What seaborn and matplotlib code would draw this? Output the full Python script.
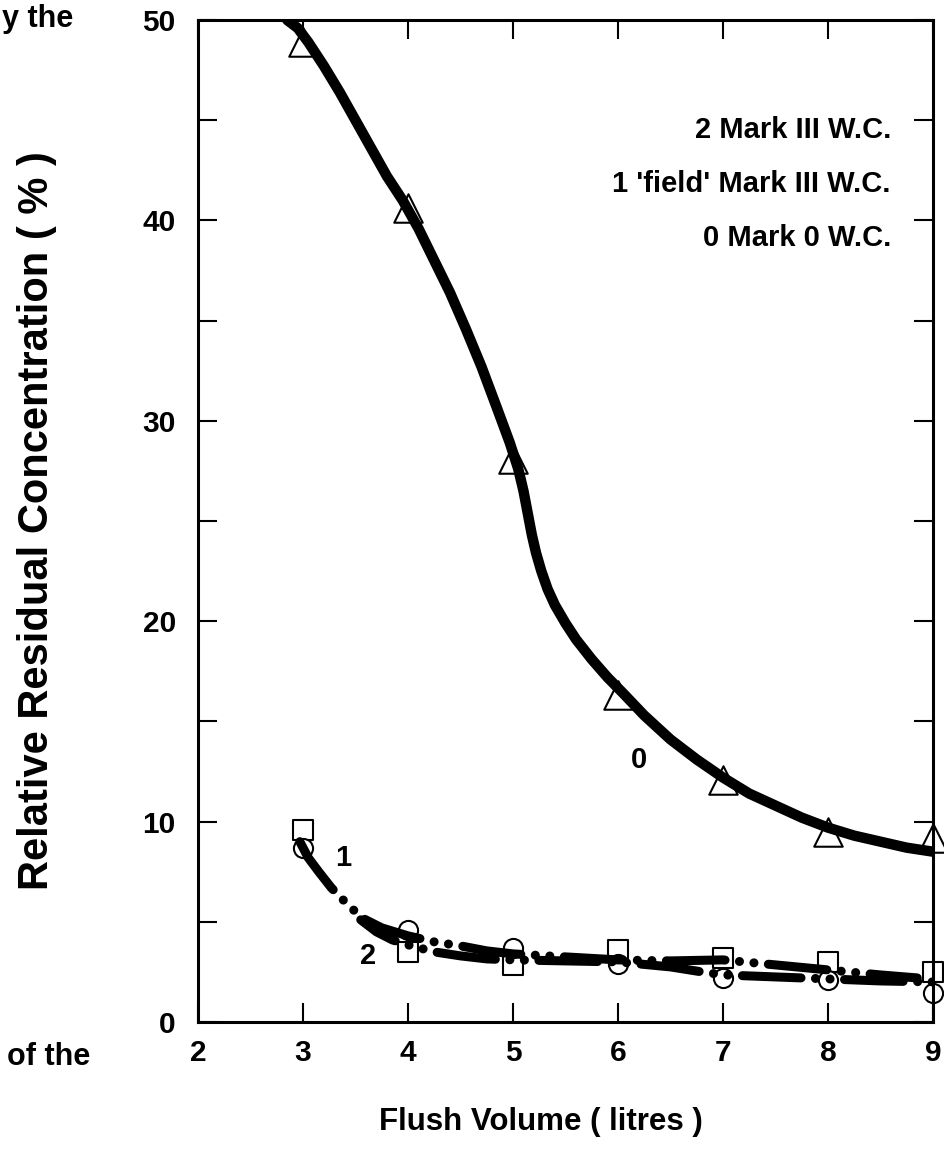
import numpy as np
import pandas as pd
import seaborn as sns
import matplotlib.pyplot as plt

# measured points
flush = [3, 4, 5, 6, 7, 8, 9]
mark0 = [48.9, 40.6, 28.1, 16.3, 12.1, 9.5, 9.2]        # triangles
field_sq = [9.6, 3.5, 2.85, 3.6, 3.2, 3.0, 2.5]          # squares
mark3_ci = [8.7, 4.6, 3.7, 2.9, 2.2, 2.1, 1.45]          # circles

# hand-drawn curves
c0_x = [2.85, 2.95, 3.05, 3.2, 3.35, 3.5, 3.65, 3.8, 3.95, 4.1, 4.25, 4.4, 4.55, 4.7, 4.85, 4.97, 5.05, 5.1, 5.14, 5.18, 5.22, 5.27, 5.33, 5.4, 5.5, 5.6, 5.75, 5.9, 6.05, 6.25, 6.5, 6.75, 7.0, 7.25, 7.5, 7.75, 8.0, 8.25, 8.5, 8.75, 9.0]
c0_y = [50.0, 49.6, 48.9, 47.7, 46.4, 45.0, 43.6, 42.2, 41.0, 39.6, 38.0, 36.4, 34.6, 32.7, 30.6, 28.9, 27.6, 26.5, 25.4, 24.3, 23.4, 22.5, 21.6, 20.8, 19.9, 19.1, 18.1, 17.2, 16.4, 15.3, 14.1, 13.1, 12.2, 11.4, 10.8, 10.2, 9.7, 9.3, 9.0, 8.7, 8.5]
c1_x = [2.97, 3.05, 3.15, 3.27, 3.4, 3.56, 3.75, 4.0, 4.25, 4.5, 4.75, 5.0, 5.5, 6.0, 6.5, 7.0, 7.5, 8.0, 8.5, 8.85]
c1_y = [9.0, 8.2, 7.5, 6.7, 6.0, 5.2, 4.7, 4.3, 4.0, 3.8, 3.55, 3.4, 3.25, 3.1, 3.05, 3.1, 2.85, 2.6, 2.35, 2.2]
c2_x = [3.55, 3.7, 3.85, 4.0, 4.25, 4.5, 4.75, 5.0, 5.5, 6.0, 6.5, 6.8, 7.0, 7.5, 8.0, 8.5, 9.0]
c2_y = [5.1, 4.5, 4.1, 3.85, 3.5, 3.3, 3.15, 3.1, 3.05, 3.0, 2.75, 2.5, 2.35, 2.25, 2.15, 2.05, 2.0]

legend_lines = ["2 Mark III W.C.", "1 'field' Mark III W.C.", "0 Mark 0 W.C."]

sns.set_style("ticks")
plt.rcParams['font.family'] = ['Liberation Sans', 'DejaVu Sans']
plt.rcParams['font.weight'] = 'bold'
for k in ['text.color', 'axes.labelcolor', 'xtick.color', 'ytick.color', 'axes.edgecolor']:
    plt.rcParams[k] = 'black'

fig = plt.figure(figsize=(9.45, 11.53), dpi=100)
ax = fig.add_axes([0.2095, 0.1136, 0.7778, 0.869])

df_pts = pd.DataFrame({'x': flush, 'm0': mark0, 'sq': field_sq, 'ci': mark3_ci})

# open markers underneath the curves
sns.scatterplot(data=df_pts, x='x', y='m0', marker='^', s=420, facecolor='white',
                edgecolor='black', linewidth=1.5, ax=ax, zorder=2, clip_on=False)
sns.scatterplot(data=df_pts, x='x', y='sq', marker='s', s=210, facecolor='white',
                edgecolor='black', linewidth=1.5, ax=ax, zorder=2, clip_on=False)
sns.scatterplot(data=df_pts, x='x', y='ci', marker='o', s=190, facecolor='white',
                edgecolor='black', linewidth=1.5, ax=ax, zorder=2, clip_on=False)

sns.lineplot(x=c0_x, y=c0_y, sort=False, estimator=None, color='black', linewidth=7.5,
             ax=ax, zorder=3, solid_capstyle='round', solid_joinstyle='round')
dashes = (6.5, 1.6, 0.01, 1.6, 0.01, 1.6)
sns.lineplot(x=c1_x, y=c1_y, sort=False, estimator=None, color='black', linewidth=6.5,
             ax=ax, zorder=3, dashes=False, linestyle=(0, dashes), dash_capstyle='round')
sns.lineplot(x=c2_x, y=c2_y, sort=False, estimator=None, color='black', linewidth=6.5,
             ax=ax, zorder=3, dashes=False, linestyle=(2, dashes), dash_capstyle='round')

ax.set_xlim(2, 9)
ax.set_ylim(0, 50)
ax.set_xticks(range(2, 10))
ax.set_yticks(range(0, 51, 10))
ax.set_yticks(range(5, 50, 10), minor=True)
ax.tick_params(axis='both', which='both', direction='in', length=14, width=1.5,
               top=True, right=True, labelsize=21.5)
ax.tick_params(axis='y', which='major', pad=16)
ax.tick_params(axis='x', which='major', pad=12)
for lab in ax.get_xticklabels() + ax.get_yticklabels():
    lab.set_fontweight('bold')
for sp in ax.spines.values():
    sp.set_linewidth(2.2)
    sp.set_visible(True)

ax.set_xlabel("Flush Volume ( litres )", fontsize=22.5, fontweight='bold')
ax.xaxis.set_label_coords(0.467, -0.085)
ax.set_ylabel("Relative Residual Concentration ( % )", fontsize=30, fontweight='bold')
ax.yaxis.set_label_coords(-0.192, 0.50)

for i, t in enumerate(legend_lines):
    ax.text(8.6, 44.5 - 2.7 * i, t, ha='right', va='center', fontsize=21, fontweight='bold')

ax.text(3.38, 8.2, "1", ha='center', va='center', fontsize=21, fontweight='bold')
ax.text(3.62, 3.3, "2", ha='center', va='center', fontsize=21, fontweight='bold')
ax.text(6.2, 13.1, "0", ha='center', va='center', fontsize=21, fontweight='bold')

# fragments of surrounding page text
fig.text(0.002, 1 - 4 / 1153, "y the", ha='left', va='top', fontsize=22, fontweight='bold')
fig.text(0.007, 0.083, "of the", ha='left', va='center', fontsize=22, fontweight='bold')

fig.savefig("out.png", dpi=100)
